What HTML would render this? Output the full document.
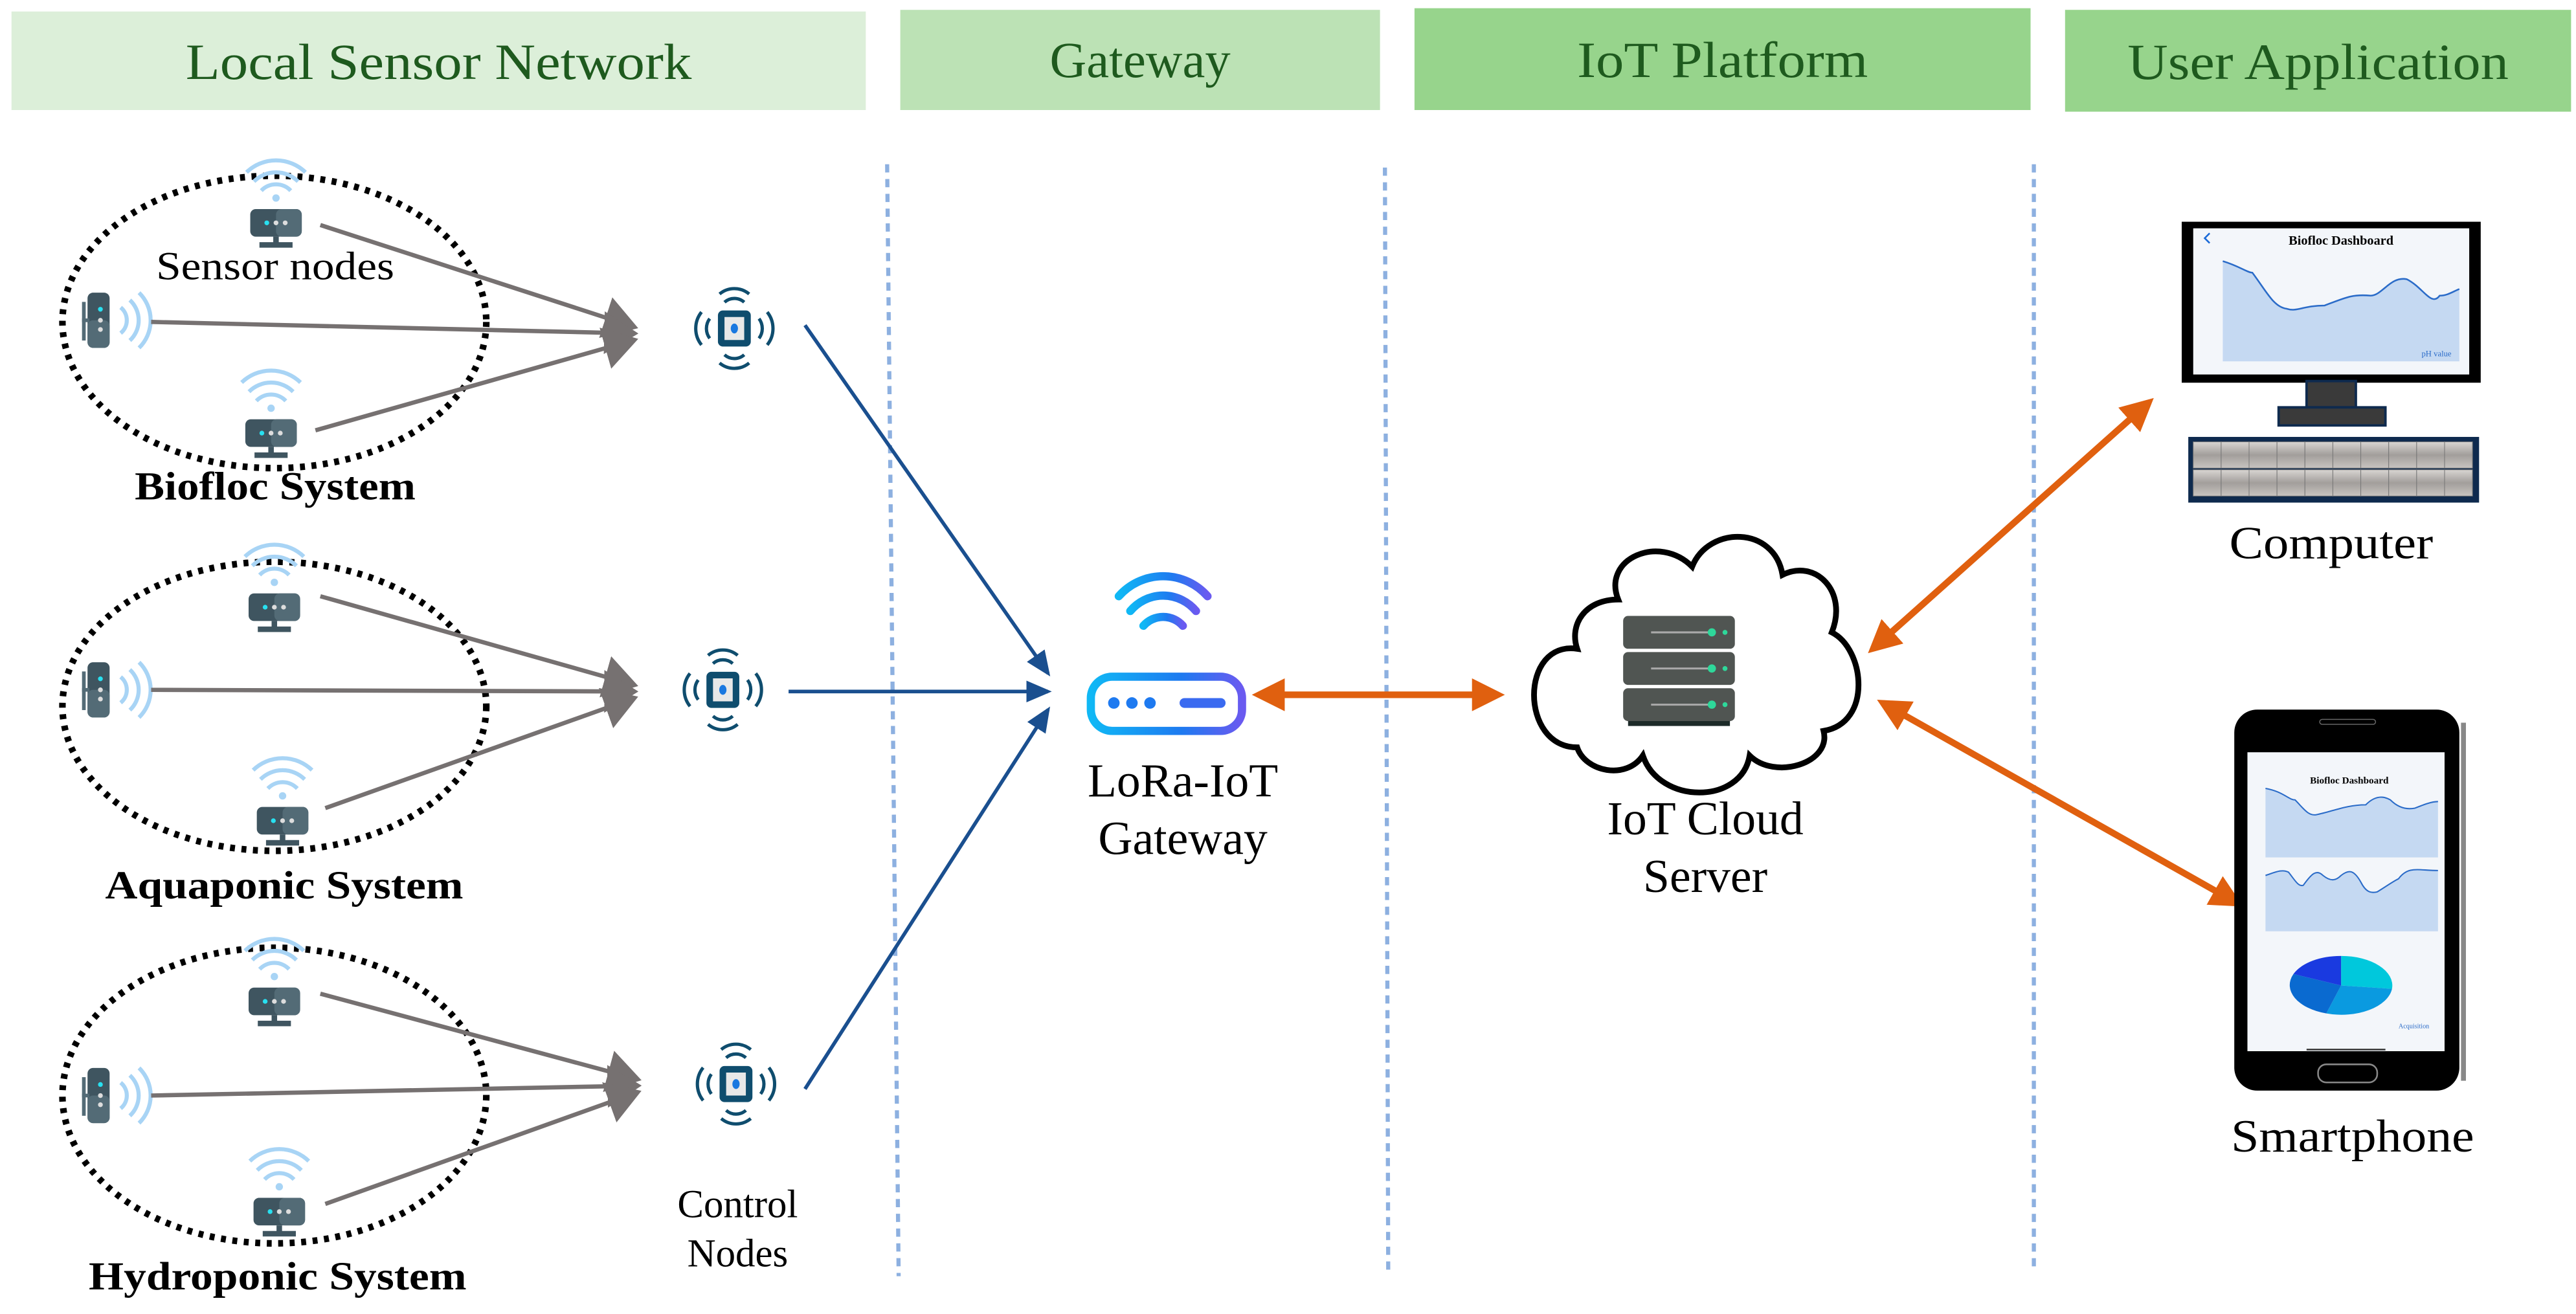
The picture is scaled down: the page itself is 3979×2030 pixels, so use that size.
<!DOCTYPE html>
<html><head><meta charset="utf-8"><style>
html,body{margin:0;padding:0;background:#fff}
svg{display:block}
text{font-family:"Liberation Serif",serif}
</style></head><body>
<svg width="3979" height="2030" viewBox="0 0 1568 800" preserveAspectRatio="none" xmlns="http://www.w3.org/2000/svg">
<defs>
<marker id="ag" markerWidth="8" markerHeight="10" refX="7" refY="5" orient="auto" markerUnits="strokeWidth"><path d="M0,0 L8,5 L0,10 z" fill="#767171"/></marker>
<marker id="ab" markerWidth="7" markerHeight="6" refX="6" refY="3" orient="auto" markerUnits="strokeWidth"><path d="M0,0 L7,3 L0,6 z" fill="#1a4f8f"/></marker>
<marker id="ao" markerWidth="5" markerHeight="5" refX="4" refY="2.5" orient="auto-start-reverse" markerUnits="strokeWidth"><path d="M0,0 L5,2.5 L0,5 z" fill="#e0600f"/></marker>
<g id="sn0">
 <path d="M-8,-16 a11,11 0 0 1 16,0 M-12,-21 a17,17 0 0 1 24,0 M-16,-26 a23,23 0 0 1 32,0" fill="none" stroke="#a8d4f5" stroke-width="2.2"/>
 <circle cx="0" cy="-12" r="2" fill="#a8d4f5"/>
 <rect x="-14" y="-6" width="28" height="15" rx="3" fill="#3f5560"/>
 <rect x="0" y="-6" width="14" height="15" rx="3" fill="#536b76"/>
 <circle cx="-5" cy="1.5" r="1.3" fill="#28e0f0"/><circle cx="0" cy="1.5" r="1.3" fill="#ddd"/><circle cx="5" cy="1.5" r="1.3" fill="#ddd"/>
 <rect x="-1.5" y="9" width="3" height="4" fill="#3f5560"/><rect x="-9" y="12" width="18" height="3" fill="#3f5560"/>
</g>
<g id="sn"><use href="#sn0" transform="scale(1.12)"/></g>
<g id="sv0">
 <rect x="-6" y="-15" width="12" height="30" rx="3" fill="#3f5560"/>
 <rect x="-6" y="0" width="12" height="15" rx="3" fill="#536b76"/>
 <rect x="-9" y="-10" width="2" height="21" fill="#536b76"/><rect x="-9" y="-1" width="4" height="2" fill="#536b76"/>
 <circle cx="1" cy="-6" r="1.3" fill="#28e0f0"/><circle cx="1" cy="0" r="1.3" fill="#ddd"/><circle cx="1" cy="5" r="1.3" fill="#ddd"/>
 <path d="M12,-7 a9,9 0 0 1 0,14 M17,-11 a15,15 0 0 1 0,22 M22,-15 a21,21 0 0 1 0,30" fill="none" stroke="#a8d4f5" stroke-width="2.2"/>
</g>
<g id="sv"><use href="#sv0" transform="scale(1.12)"/></g>
<g id="cn">
 <rect x="-10" y="-11" width="20" height="22" rx="3" fill="#0f4d6e"/>
 <rect x="-6" y="-7" width="12" height="14" fill="#e8e8e8"/>
 <ellipse cx="0" cy="0" rx="2.2" ry="3" fill="#1a78e0"/>
 <g fill="none" stroke="#0f4d6e" stroke-width="2">
 <path d="M-15,-6 a10,10 0 0 0 0,12 M-20,-10 a16,16 0 0 0 0,20 M15,-6 a10,10 0 0 1 0,12 M20,-10 a16,16 0 0 1 0,20"/>
 <path d="M-6,-16 a9,9 0 0 1 12,0 M-9,-21 a14,14 0 0 1 18,0 M-6,16 a9,9 0 0 0 12,0 M-9,21 a14,14 0 0 0 18,0"/>
 </g>
</g>
<linearGradient id="rg" x1="0" x2="1"><stop offset="0" stop-color="#10b8f5"/><stop offset="0.6" stop-color="#1e7af0"/><stop offset="1" stop-color="#6a5af0"/></linearGradient>
<linearGradient id="kg" x1="0" y1="0" x2="0" y2="1"><stop offset="0" stop-color="#d8d5d2"/><stop offset="0.5" stop-color="#a29e9b"/><stop offset="1" stop-color="#c8c4c0"/></linearGradient>
</defs>

<!-- headers -->
<rect x="7" y="7" width="520" height="60" fill="#dcefd9"/>
<rect x="548" y="6" width="292" height="61" fill="#bce2b5"/>
<rect x="861" y="5" width="375" height="62" fill="#97d48c"/>
<rect x="1257" y="6" width="308" height="62" fill="#97d48c"/>
<g fill="#1e5a1e" font-size="31">
<text x="113" y="48" textLength="308" lengthAdjust="spacingAndGlyphs">Local Sensor Network</text>
<text x="639" y="47" textLength="110" lengthAdjust="spacingAndGlyphs">Gateway</text>
<text x="960" y="47" textLength="177" lengthAdjust="spacingAndGlyphs">IoT Platform</text>
<text x="1295" y="48" textLength="232" lengthAdjust="spacingAndGlyphs">User Application</text>
</g>

<!-- dividers -->
<g stroke="#8db0e0" stroke-width="2.5" stroke-dasharray="5 4">
<line x1="540" y1="100" x2="547" y2="777"/>
<line x1="843" y1="102" x2="845" y2="773"/>
<line x1="1238" y1="100" x2="1238" y2="775"/>
</g>

<!-- ellipses -->
<g fill="none" stroke="#000" stroke-width="4" stroke-dasharray="3 4">
<ellipse cx="167" cy="196" rx="129" ry="89"/>
<ellipse cx="167" cy="430" rx="129" ry="88"/>
<ellipse cx="167" cy="667" rx="129" ry="90"/>
</g>

<!-- sensor nodes -->
<use href="#sn" x="168" y="134"/><use href="#sv" x="60" y="195"/><use href="#sn" x="165" y="262"/>
<use href="#sn" x="167" y="368"/><use href="#sv" x="60" y="420"/><use href="#sn" x="172" y="498"/>
<use href="#sn" x="167" y="608"/><use href="#sv" x="60" y="667"/><use href="#sn" x="170" y="736"/>

<!-- gray arrows -->
<g stroke="#767171" stroke-width="2.6" marker-end="url(#ag)">
<line x1="195" y1="137" x2="386" y2="199"/>
<line x1="92" y1="196" x2="386" y2="203"/>
<line x1="192" y1="262" x2="386" y2="207"/>
<line x1="195" y1="363" x2="386" y2="417"/>
<line x1="92" y1="420" x2="386" y2="421"/>
<line x1="198" y1="492" x2="386" y2="425"/>
<line x1="195" y1="605" x2="388" y2="657"/>
<line x1="92" y1="667" x2="388" y2="661"/>
<line x1="198" y1="733" x2="388" y2="665"/>
</g>

<!-- control nodes -->
<use href="#cn" x="447" y="200"/><use href="#cn" x="440" y="420"/><use href="#cn" x="448" y="660"/>

<!-- blue arrows -->
<g stroke="#1a4f8f" stroke-width="2.2" marker-end="url(#ab)">
<line x1="490" y1="198" x2="638" y2="410"/>
<line x1="480" y1="421" x2="638" y2="421"/>
<line x1="490" y1="663" x2="638" y2="432"/>
</g>

<!-- gateway -->
<g fill="none" stroke="url(#rg)" stroke-linecap="round">
<path d="M696,381 a16,16 0 0 1 24,0" stroke-width="5"/>
<path d="M688,372 a26,26 0 0 1 40,0" stroke-width="5"/>
<path d="M681,363 a36,36 0 0 1 54,0" stroke-width="5"/>
<rect x="664" y="412" width="92" height="33" rx="13" stroke-width="5"/>
</g>
<g fill="#1e7af0"><circle cx="678" cy="428" r="3.5"/><circle cx="689" cy="428" r="3.5"/><circle cx="700" cy="428" r="3.5"/><rect x="718" y="425" width="28" height="6" rx="3" fill="#3a6af0"/></g>
<text x="720" y="485" font-size="29" text-anchor="middle">LoRa-IoT</text>
<text x="720" y="520" font-size="29" text-anchor="middle">Gateway</text>

<!-- orange arrows -->
<g stroke="#e0600f" stroke-width="4" marker-start="url(#ao)" marker-end="url(#ao)">
<line x1="766" y1="423" x2="912" y2="423"/>
<line x1="1140" y1="395" x2="1308" y2="245"/>
<line x1="1146" y1="428" x2="1362" y2="550"/>
</g>

<!-- cloud -->
<path d="M960,395 C925,390 925,455 960,455 C965,470 990,475 1000,460 C1010,490 1060,490 1065,460 C1080,475 1115,465 1110,445 C1140,440 1135,395 1115,385 C1125,360 1105,340 1085,350 C1080,320 1040,320 1030,345 C1010,325 975,340 985,365 C965,365 955,380 960,395 Z" fill="#fff" stroke="#000" stroke-width="3.5"/>
<g>
<rect x="988" y="375" width="68" height="20" rx="3" fill="#505552"/>
<rect x="988" y="397" width="68" height="20" rx="3" fill="#505552"/>
<rect x="988" y="419" width="68" height="20" rx="3" fill="#505552"/>
<rect x="991" y="439" width="62" height="3" fill="#1c2a28"/>
<g stroke="#aaa" stroke-width="1.2"><line x1="1005" y1="385" x2="1040" y2="385"/><line x1="1005" y1="407" x2="1040" y2="407"/><line x1="1005" y1="429" x2="1040" y2="429"/></g>
<g fill="#2ed89a"><circle cx="1042" cy="385" r="2.5"/><circle cx="1042" cy="407" r="2.5"/><circle cx="1042" cy="429" r="2.5"/><circle cx="1050" cy="385" r="1.5"/><circle cx="1050" cy="407" r="1.5"/><circle cx="1050" cy="429" r="1.5"/></g>
</g>
<text x="1038" y="508" font-size="29" text-anchor="middle">IoT Cloud</text>
<text x="1038" y="543" font-size="29" text-anchor="middle">Server</text>

<!-- computer -->
<rect x="1328" y="135" width="182" height="98" fill="#000"/>
<rect x="1335" y="139" width="168" height="89" fill="#f3f6fa"/>
<text x="1425" y="149" font-size="8" font-weight="bold" font-family="Liberation Sans,sans-serif" text-anchor="middle">Biofloc Dashboard</text>
<path d="M1345,148 l-3,-3 l3,-3" fill="none" stroke="#1a6ad8" stroke-width="1"/>
<path d="M1353,159 C1363,162 1368,166 1371,166 C1380,178 1384,187 1392,188 C1398,190 1402,186 1415,186 C1428,181 1432,179 1443,180 C1450,180 1455,168 1465,170 C1475,175 1480,187 1485,180 C1490,180 1494,177 1497,176 L1497,220 L1353,220 Z" fill="#c5d9f2"/>
<path d="M1353,159 C1363,162 1368,166 1371,166 C1380,178 1384,187 1392,188 C1398,190 1402,186 1415,186 C1428,181 1432,179 1443,180 C1450,180 1455,168 1465,170 C1475,175 1480,187 1485,180 C1490,180 1494,177 1497,176" fill="none" stroke="#2a6bc8" stroke-width="1"/>
<text x="1474" y="217" font-size="5" fill="#2a6bc8" font-family="Liberation Sans,sans-serif">pH value</text>
<rect x="1404" y="232" width="30" height="16" fill="#3a3a3a" stroke="#0e2a4e" stroke-width="1.5"/>
<rect x="1387" y="248" width="65" height="11" fill="#3a3a3a" stroke="#0e2a4e" stroke-width="1.5"/>
<rect x="1332" y="266" width="177" height="40" fill="#0e2a4e"/>
<g fill="url(#kg)" stroke="#777" stroke-width="0.4">
<rect x="1335" y="269" width="17" height="16"/><rect x="1352" y="269" width="17" height="16"/><rect x="1369" y="269" width="17" height="16"/><rect x="1386" y="269" width="17" height="16"/><rect x="1403" y="269" width="17" height="16"/><rect x="1420" y="269" width="17" height="16"/><rect x="1437" y="269" width="17" height="16"/><rect x="1454" y="269" width="17" height="16"/><rect x="1471" y="269" width="17" height="16"/><rect x="1488" y="269" width="17" height="16"/>
<rect x="1335" y="286" width="17" height="16"/><rect x="1352" y="286" width="17" height="16"/><rect x="1369" y="286" width="17" height="16"/><rect x="1386" y="286" width="17" height="16"/><rect x="1403" y="286" width="17" height="16"/><rect x="1420" y="286" width="17" height="16"/><rect x="1437" y="286" width="17" height="16"/><rect x="1454" y="286" width="17" height="16"/><rect x="1471" y="286" width="17" height="16"/><rect x="1488" y="286" width="17" height="16"/>
</g>
<text x="1357" y="340" font-size="28" textLength="124" lengthAdjust="spacingAndGlyphs">Computer</text>

<!-- smartphone -->
<rect x="1360" y="432" width="137" height="232" rx="14" fill="#000"/>
<rect x="1498" y="440" width="3" height="218" fill="#888"/>
<rect x="1368" y="458" width="120" height="182" fill="#f3f6fa"/>
<rect x="1412" y="438" width="34" height="3" rx="1.5" fill="none" stroke="#666" stroke-width="0.6"/>
<rect x="1411" y="648" width="36" height="11" rx="5" fill="none" stroke="#888" stroke-width="1"/>
<text x="1430" y="477" font-size="6" font-weight="bold" font-family="Liberation Sans,sans-serif" text-anchor="middle">Biofloc Dashboard</text>
<path d="M1379,480 C1390,482 1393,487 1397,487 C1402,492 1405,497 1410,496 C1420,494 1428,490 1440,490 C1445,485 1450,484 1455,487 C1460,492 1465,493 1470,492 C1475,490 1480,488 1484,488 L1484,522 L1379,522 Z" fill="#c5d9f2"/>
<path d="M1379,480 C1390,482 1393,487 1397,487 C1402,492 1405,497 1410,496 C1420,494 1428,490 1440,490 C1445,485 1450,484 1455,487 C1460,492 1465,493 1470,492 C1475,490 1480,488 1484,488" fill="none" stroke="#2a6bc8" stroke-width="0.8"/>
<path d="M1379,533 C1385,531 1389,529 1393,531 C1397,536 1399,540 1402,539 C1407,532 1410,529 1414,533 C1419,537 1422,536 1425,533 C1430,529 1433,530 1437,537 C1440,543 1443,544 1447,543 C1452,540 1456,537 1460,535 C1466,527 1472,530 1484,530 L1484,567 L1379,567 Z" fill="#c5d9f2"/>
<path d="M1379,533 C1385,531 1389,529 1393,531 C1397,536 1399,540 1402,539 C1407,532 1410,529 1414,533 C1419,537 1422,536 1425,533 C1430,529 1433,530 1437,537 C1440,543 1443,544 1447,543 C1452,540 1456,537 1460,535 C1466,527 1472,530 1484,530" fill="none" stroke="#2a6bc8" stroke-width="0.8"/>
<g transform="translate(1425,600)">
<path d="M0,0 L0,-18 A31,18 0 0 1 31,2 Z" fill="#00c8dc"/>
<path d="M0,0 L31,2 A31,18 0 0 1 -9,17 Z" fill="#0a9ae0"/>
<path d="M0,0 L-9,17 A31,18 0 0 1 -29,-7 Z" fill="#0a6ad0"/>
<path d="M0,0 L-29,-7 A31,18 0 0 1 0,-18 Z" fill="#1a3ae0"/>
</g>
<text x="1460" y="626" font-size="4" fill="#2a6bc8" font-family="Liberation Sans,sans-serif">Acquisition</text>
<line x1="1404" y1="639" x2="1452" y2="639" stroke="#333" stroke-width="1"/>
<text x="1358" y="701" font-size="28" textLength="148" lengthAdjust="spacingAndGlyphs">Smartphone</text>

<!-- left labels -->
<text x="95" y="170" font-size="24" textLength="145" lengthAdjust="spacingAndGlyphs">Sensor nodes</text>
<g font-size="24" font-weight="bold">
<text x="82" y="304" textLength="171" lengthAdjust="spacingAndGlyphs">Biofloc System</text>
<text x="64" y="547" textLength="218" lengthAdjust="spacingAndGlyphs">Aquaponic System</text>
<text x="54" y="785" textLength="230" lengthAdjust="spacingAndGlyphs">Hydroponic System</text>
</g>
<text x="449" y="741" font-size="24" text-anchor="middle">Control</text>
<text x="449" y="771" font-size="24" text-anchor="middle">Nodes</text>
</svg>
</body></html>
